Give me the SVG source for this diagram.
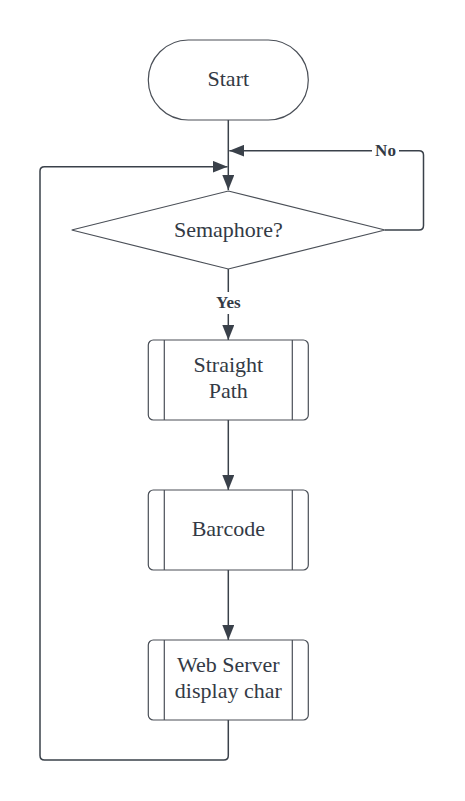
<svg xmlns="http://www.w3.org/2000/svg" width="465" height="801" viewBox="0 0 465 801">
<style>
.shape{fill:#ffffff;stroke:#4a4f57;stroke-width:1.2}
.bar{stroke:#4a4f57;stroke-width:1.2}
.conn{fill:none;stroke:#3a414a;stroke-width:1.5}
.lbl{font-family:"Liberation Serif","Times New Roman",serif;font-size:22px;fill:#333a45;text-anchor:middle;dominant-baseline:central}
.elbl{font-family:"Liberation Serif","Times New Roman",serif;font-size:17px;font-weight:bold;fill:#333a45;text-anchor:middle;dominant-baseline:central}
</style>
<defs>
<marker id="arr" markerWidth="15" markerHeight="12" refX="15" refY="6" orient="auto" markerUnits="userSpaceOnUse">
<path d="M0,0 L15,6 L0,12 Z" fill="#3a414a"/>
</marker>
</defs>
<rect width="465" height="801" fill="#ffffff"/>
<g id="connectors">
<path class="conn" d="M228.3,120 V190" marker-end="url(#arr)"/>
<path class="conn" d="M385,230 H419 Q423.5,230 423.5,225.5 V155 Q423.5,150.7 419,150.7 H229.3" marker-end="url(#arr)"/>
<path class="conn" d="M228.3,720 V755.5 Q228.3,760 223.8,760 H44.5 Q40,760 40,755.5 V171 Q40,166.7 44.5,166.7 H227.5" marker-end="url(#arr)"/>
<path class="conn" d="M228.3,269 V292"/>
<path class="conn" d="M228.3,314 V340" marker-end="url(#arr)"/>
<path class="conn" d="M228.3,420 V490" marker-end="url(#arr)"/>
<path class="conn" d="M228.3,570 V640" marker-end="url(#arr)"/>
<rect x="372" y="141" width="27" height="19" fill="#ffffff"/>
<text class="elbl" x="385.5" y="150.5">No</text>
<text class="elbl" x="228.3" y="302.5">Yes</text>
</g>
<g id="start">
<rect class="shape" x="148.3" y="40" width="160" height="80" rx="40" ry="40"/>
<text class="lbl" x="228.3" y="78.5">Start</text>
</g>
<g id="semaphore">
<polygon class="shape" points="228.3,191 385,230 228.3,269 71.7,230"/>
<text class="lbl" x="228.3" y="229">Semaphore?</text>
</g>
<g id="straight-path">
<rect class="shape" x="148.3" y="340" width="160" height="80" rx="5"/>
<line class="bar" x1="164.3" y1="340" x2="164.3" y2="420"/>
<line class="bar" x1="292.3" y1="340" x2="292.3" y2="420"/>
<text class="lbl" x="228.3" y="364">Straight</text>
<text class="lbl" x="228.3" y="390">Path</text>
</g>
<g id="barcode">
<rect class="shape" x="148.3" y="490" width="160" height="80" rx="5"/>
<line class="bar" x1="164.3" y1="490" x2="164.3" y2="570"/>
<line class="bar" x1="292.3" y1="490" x2="292.3" y2="570"/>
<text class="lbl" x="228.3" y="528">Barcode</text>
</g>
<g id="web-server">
<rect class="shape" x="148.3" y="640" width="160" height="80" rx="5"/>
<line class="bar" x1="164.3" y1="640" x2="164.3" y2="720"/>
<line class="bar" x1="292.3" y1="640" x2="292.3" y2="720"/>
<text class="lbl" x="228.3" y="664">Web Server</text>
<text class="lbl" x="228.3" y="690">display char</text>
</g>
</svg>
